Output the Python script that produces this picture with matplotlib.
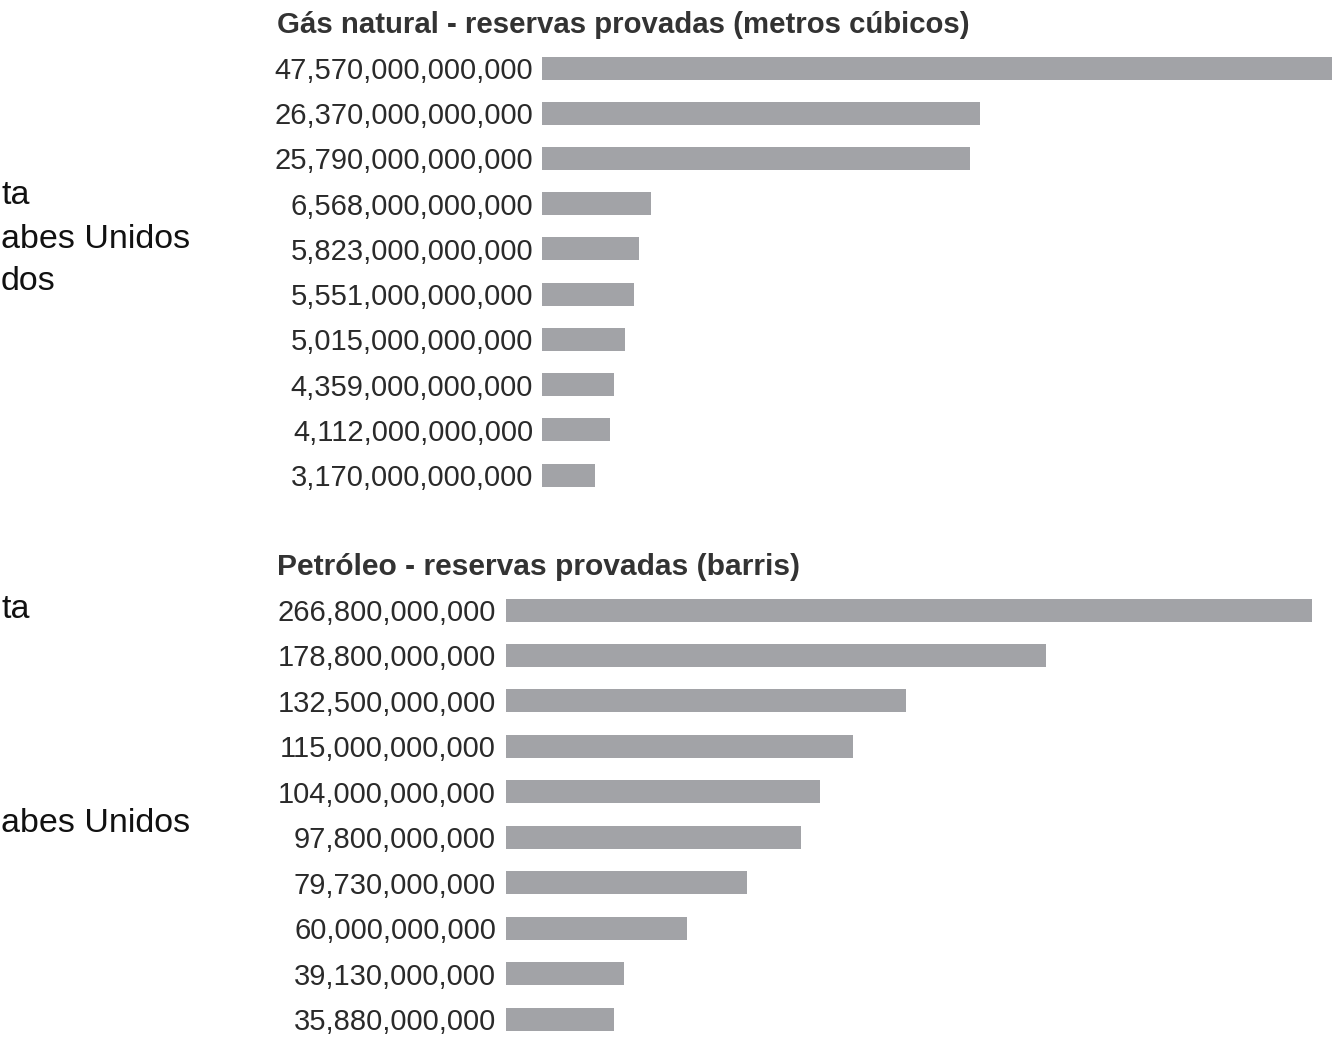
import matplotlib
matplotlib.use("Agg")
import matplotlib.pyplot as plt

# Proven reserves, top ten (values as printed on the chart)
gas_values = [47570000000000, 26370000000000, 25790000000000, 6568000000000,
              5823000000000, 5551000000000, 5015000000000, 4359000000000,
              4112000000000, 3170000000000]
oil_values = [266800000000, 178800000000, 132500000000, 115000000000,
              104000000000, 97800000000, 79730000000, 60000000000,
              39130000000, 35880000000]

gas_title = "Gás natural - reservas provadas (metros cúbicos)"
oil_title = "Petróleo - reservas provadas (barris)"

# cropped-off country names visible at the left edge
left_gas_text = ["ta", "abes Unidos", "dos"]
left_oil_text = ["ta", "abes Unidos"]

W, H = 1344, 1048
BAR_COLOR = "#a2a3a7"
NARROW = ["Liberation Sans Narrow", "Liberation Sans", "DejaVu Sans"]

fig = plt.figure(figsize=(W / 100, H / 100), dpi=100)
fig.patch.set_facecolor("white")


def px_axes(x0, x1, y_first, y_last, n):
    """Axes whose bar centres sit at pixel rows y_first..y_last."""
    step = (y_last - y_first) / (n - 1)
    top = y_first - step / 2
    bottom = y_last + step / 2
    ax = fig.add_axes([x0 / W, 1 - bottom / H, (x1 - x0) / W, (bottom - top) / H])
    return ax, step


def draw_panel(values, x0, x1, y_first, y_last, pad_px):
    n = len(values)
    ax, step = px_axes(x0, x1, y_first, y_last, n)
    ax.barh(range(n), values, height=23 / step, color=BAR_COLOR, edgecolor="none")
    ax.set_xlim(0, max(values))
    ax.set_ylim(n - 0.5, -0.5)
    ax.set_yticks(range(n))
    ax.set_yticklabels([f"{v:,}" for v in values], family=NARROW,
                       fontsize=21, color="#2a2a2a")
    ax.tick_params(axis="y", length=0, pad=pad_px * 0.72)
    ax.set_xticks([])
    for s in ax.spines.values():
        s.set_visible(False)
    ax.patch.set_alpha(0)
    return ax


draw_panel(gas_values, 542, 1332, 68, 475, 9)
draw_panel(oil_values, 506, 1312, 610, 1019, 10)

fig.text(277 / W, 1 - 25 / H, gas_title, family=NARROW, fontsize=21.2,
         fontweight="bold", color="#333333", va="center", ha="left")
fig.text(277 / W, 1 - 567 / H, oil_title, family=NARROW, fontsize=21.6,
         fontweight="bold", color="#333333", va="center", ha="left")

for txt, y in zip(left_gas_text, [196, 239, 282]):
    fig.text(1 / W, 1 - y / H, txt, family=["Liberation Sans", "DejaVu Sans"],
             fontsize=24.5, color="#111111", va="center", ha="left")
for txt, y in zip(left_oil_text, [610, 824]):
    fig.text(1 / W, 1 - y / H, txt, family=["Liberation Sans", "DejaVu Sans"],
             fontsize=24.5, color="#111111", va="center", ha="left")

fig.savefig("out.png", dpi=100, facecolor="white")
